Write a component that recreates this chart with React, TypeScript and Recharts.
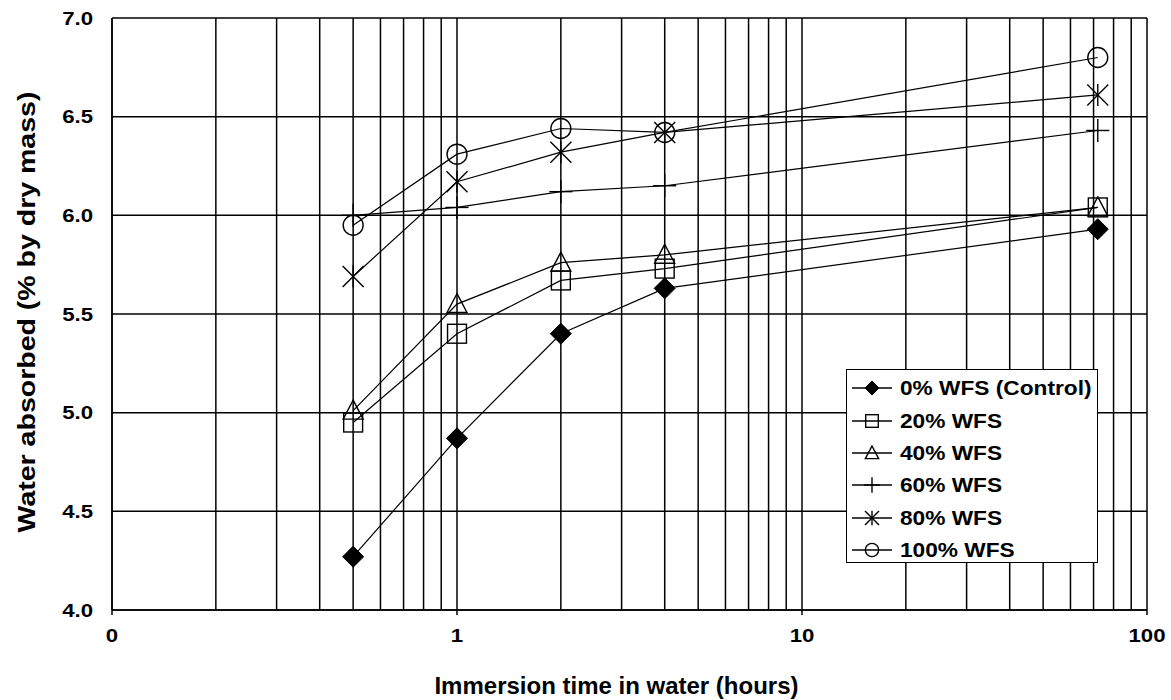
import { LineChart, Line, XAxis, YAxis, CartesianGrid, Legend, Label } from 'recharts';

// Immersion time (hours) for every sample
const hours = [0.5, 1, 2, 4, 72];

// Water absorbed (% by dry mass) per WFS replacement level
const wfs0 = [4.27, 4.87, 5.4, 5.63, 5.93];
const wfs20 = [4.95, 5.4, 5.67, 5.73, 6.04];
const wfs40 = [5.01, 5.55, 5.76, 5.8, 6.04];
const wfs60 = [6.0, 6.04, 6.12, 6.15, 6.43];
const wfs80 = [5.69, 6.17, 6.32, 6.42, 6.61];
const wfs100 = [5.95, 6.31, 6.44, 6.42, 6.8];

const seriesNames = ['0% WFS (Control)', '20% WFS', '40% WFS', '60% WFS', '80% WFS', '100% WFS'];
const seriesKeys = ['wfs0', 'wfs20', 'wfs40', 'wfs60', 'wfs80', 'wfs100'];
const seriesMarkers = ['diamond', 'square', 'triangle', 'plus', 'star', 'circle'];

// log axis: labelled decades and the minor grid lines
const xMajorTicks = [0.1, 1, 10, 100];
const xMajorLabels = ['0', '1', '10', '100'];
const xGridTicks = [
  0.1, 0.2, 0.3, 0.4, 0.5, 0.6, 0.7, 0.8, 0.9,
  1, 2, 3, 4, 5, 6, 7, 8, 9,
  10, 20, 30, 40, 50, 60, 70, 80, 90,
  100,
];
const yTicks = [4.0, 4.5, 5.0, 5.5, 6.0, 6.5, 7.0];

const data = hours.map((h, i) => ({
  hours: h,
  wfs0: wfs0[i],
  wfs20: wfs20[i],
  wfs40: wfs40[i],
  wfs60: wfs60[i],
  wfs80: wfs80[i],
  wfs100: wfs100[i],
}));

const FONT = '"Liberation Sans", Arial, Helvetica, sans-serif';

// draws one marker centred on (cx, cy), s = half size
const Marker = ({ kind, cx, cy, s }: { kind: string; cx: number; cy: number; s: number }) => {
  const sw = 1.4;
  switch (kind) {
    case 'diamond':
      return <path d={`M${cx},${cy - s} L${cx + s},${cy} L${cx},${cy + s} L${cx - s},${cy} Z`} fill="#000" stroke="#000" strokeWidth={1} />;
    case 'square':
      return <rect x={cx - s * 0.9} y={cy - s * 0.9} width={s * 1.8} height={s * 1.8} fill="none" stroke="#000" strokeWidth={sw} />;
    case 'triangle':
      return <path d={`M${cx},${cy - s} L${cx + s * 0.95},${cy + s * 0.8} L${cx - s * 0.95},${cy + s * 0.8} Z`} fill="none" stroke="#000" strokeWidth={sw} />;
    case 'plus':
      return (
        <g stroke="#000" strokeWidth={sw}>
          <line x1={cx - s * 1.1} y1={cy} x2={cx + s * 1.1} y2={cy} />
          <line x1={cx} y1={cy - s * 1.1} x2={cx} y2={cy + s * 1.1} />
        </g>
      );
    case 'star':
      return (
        <g stroke="#000" strokeWidth={sw}>
          <line x1={cx - s} y1={cy - s} x2={cx + s} y2={cy + s} />
          <line x1={cx - s} y1={cy + s} x2={cx + s} y2={cy - s} />
          <line x1={cx} y1={cy - s * 1.05} x2={cx} y2={cy + s * 1.05} />
        </g>
      );
    default:
      return <circle cx={cx} cy={cy} r={s * 0.95} fill="none" stroke="#000" strokeWidth={sw} />;
  }
};

const makeDot = (kind: string) => (props: any) => {
  const { cx, cy, index } = props;
  if (cx == null || cy == null) return <g key={index} />;
  return <Marker key={index} kind={kind} cx={cx} cy={cy} s={10.5} />;
};

const XTick = ({ x, y, payload }: any) => {
  const idx = xMajorTicks.indexOf(payload.value);
  if (idx < 0) return <g />;
  return (
    <g>
      <line x1={x} y1={y} x2={x} y2={y + 5} stroke="#000" strokeWidth={1.5} />
      <text
        transform={`translate(${x},${y + 32}) scale(1.17,1)`}
        textAnchor="middle"
        fontFamily={FONT}
        fontWeight="bold"
        fontSize={19}
        fill="#000"
      >
        {xMajorLabels[idx]}
      </text>
    </g>
  );
};

const YTick = ({ x, y, payload }: any) => (
  <text
    transform={`translate(${x - 19},${y + 6.5}) scale(1.17,1)`}
    textAnchor="end"
    fontFamily={FONT}
    fontWeight="bold"
    fontSize={19}
    fill="#000"
  >
    {Number(payload.value).toFixed(1)}
  </text>
);

const LegendBox = () => (
  <div
    style={{
      width: 252,
      height: 194,
      border: '1.5px solid #000',
      background: '#fff',
      boxSizing: 'border-box',
      paddingTop: 2,
    }}
  >
    {seriesNames.map((name, i) => (
      <div key={name} style={{ display: 'flex', alignItems: 'center', height: 32.4 }}>
        <svg width={48} height={24} style={{ marginLeft: 5 }}>
          <line x1={0} y1={12} x2={40} y2={12} stroke="#000" strokeWidth={1.4} />
          <Marker kind={seriesMarkers[i]} cx={20} cy={12} s={7} />
        </svg>
        <span
          style={{
            fontFamily: FONT,
            fontWeight: 'bold',
            fontSize: 21,
            color: '#000',
            display: 'inline-block',
            transform: 'scaleX(1.08)',
            transformOrigin: 'left center',
            whiteSpace: 'nowrap',
          }}
        >
          {name}
        </span>
      </div>
    ))}
  </div>
);

export default function App() {
  return (
    <div style={{ position: 'absolute', left: 0, top: 0, width: 1171, height: 700, background: '#fff' }}>
      <LineChart width={1171} height={700} data={data} margin={{ top: 18, right: 24, left: 0, bottom: 0 }}>
        <CartesianGrid stroke="#000" strokeWidth={1.5} />
        <XAxis
          dataKey="hours"
          type="number"
          scale="log"
          domain={[0.1, 100]}
          ticks={xGridTicks}
          interval={0}
          allowDataOverflow
          height={90}
          tickSize={0}
          tickMargin={0}
          tickLine={false}
          axisLine={{ stroke: '#000', strokeWidth: 1.5 }}
          tick={<XTick />}
        >
          <Label
            content={({ viewBox }: any) => (
              <text
                x={viewBox.x + viewBox.width / 2 - 13}
                y={viewBox.y + 84}
                textAnchor="middle"
                fontFamily={FONT}
                fontWeight="bold"
                fontSize={24}
                fill="#000"
              >
                Immersion time in water (hours)
              </text>
            )}
          />
        </XAxis>
        <YAxis
          type="number"
          domain={[4, 7]}
          ticks={yTicks}
          interval={0}
          width={112}
          tickSize={0}
          tickMargin={0}
          tickLine={false}
          axisLine={{ stroke: '#000', strokeWidth: 1.5 }}
          tick={<YTick />}
        >
          <Label
            content={({ viewBox }: any) => {
              const cx = 27;
              const cy = viewBox.y + viewBox.height / 2 - 2;
              return (
                <text
                  x={0}
                  y={0}
                  transform={`translate(${cx},${cy}) rotate(-90) scale(1.24,1)`}
                  textAnchor="middle"
                  dominantBaseline="central"
                  fontFamily={FONT}
                  fontWeight="bold"
                  fontSize={23}
                  fill="#000"
                >
                  Water absorbed (% by dry mass)
                </text>
              );
            }}
          />
        </YAxis>
        <Legend
          layout="horizontal"
          align="center"
          verticalAlign="middle"
          content={<LegendBox />}
          wrapperStyle={{ position: 'absolute', left: 846, top: 369, width: 'auto', height: 'auto' }}
        />
        {seriesKeys.map((key, i) => (
          <Line
            key={key}
            dataKey={key}
            name={seriesNames[i]}
            type="linear"
            stroke="#000"
            strokeWidth={1.2}
            dot={makeDot(seriesMarkers[i])}
            activeDot={false}
            isAnimationActive={false}
          />
        ))}
      </LineChart>
    </div>
  );
}
